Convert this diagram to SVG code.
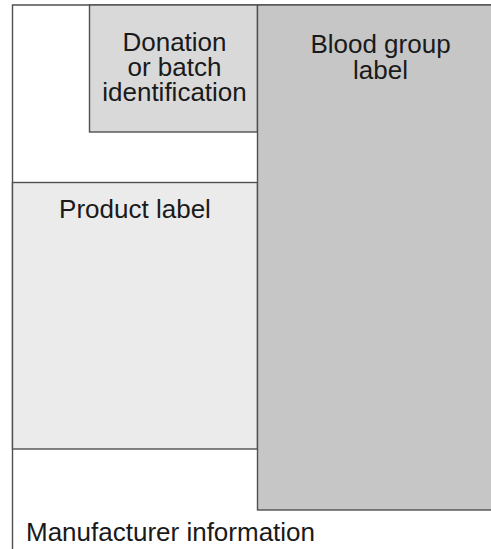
<svg xmlns="http://www.w3.org/2000/svg" width="491" height="549" viewBox="0 0 491 549">
<style>
.box{stroke:#505050;stroke-width:1.4}
.t{font-family:"Liberation Sans",Arial,sans-serif;font-size:26px;fill:#1a1a1a;text-anchor:middle}
</style>
<rect width="491" height="549" fill="#ffffff"/>
<g id="frame">
<path d="M12.5,549 V5 H491" fill="none" class="box"/>
</g>
<g id="product">
<rect x="12.5" y="182.5" width="245" height="266.5" fill="#ebebeb" class="box"/>
<text x="135" y="218" class="t">Product label</text>
</g>
<g id="donation">
<rect x="89.5" y="5" width="168" height="127" fill="#d9d9d9" class="box"/>
<text class="t" x="174.5" y="51">Donation</text>
<text class="t" x="174.5" y="76">or batch</text>
<text class="t" x="174.5" y="101">identification</text>
</g>
<g id="blood">
<rect x="257.5" y="5" width="240" height="505" fill="#c5c6c5" class="box"/>
<text class="t" x="380.5" y="53">Blood group</text>
<text class="t" x="380.5" y="79">label</text>
</g>
<g id="manufacturer">
<text x="26" y="541" style="font-family:'Liberation Sans',Arial,sans-serif;font-size:26px;fill:#1a1a1a">Manufacturer information</text>
</g>
</svg>
